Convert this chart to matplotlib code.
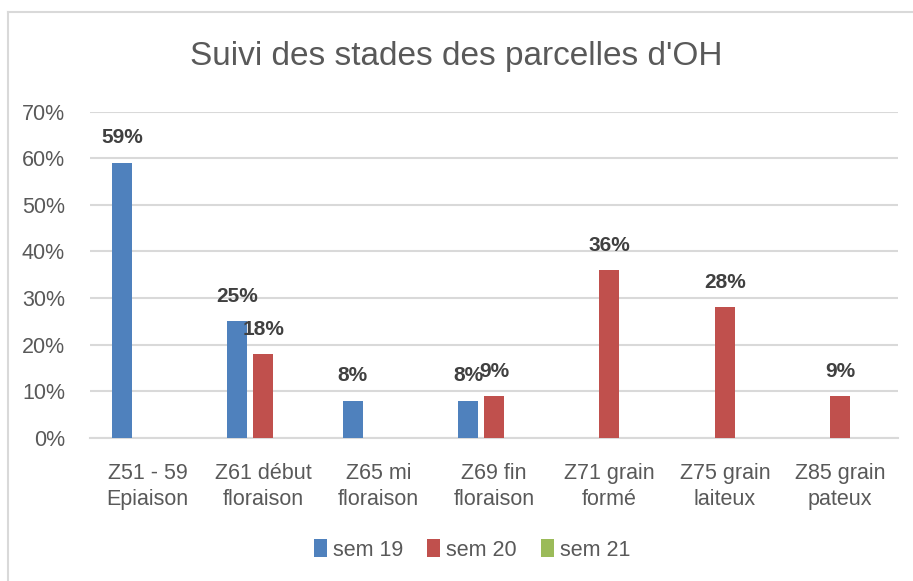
import numpy as np
import matplotlib.pyplot as plt
from matplotlib.lines import Line2D

# ---------- data ----------
categories = ['Z51 - 59\nEpiaison', 'Z61 début\nfloraison', 'Z65 mi\nfloraison',
              'Z69 fin\nfloraison', 'Z71 grain\nformé', 'Z75 grain\nlaiteux',
              'Z85 grain\npateux']
series = ['sem 19', 'sem 20', 'sem 21']
sem19 = [59, 25, 8, 8, np.nan, np.nan, np.nan]
sem20 = [np.nan, 18, np.nan, 9, 36, 28, 9]
sem21 = [np.nan] * 7
colors = ['#4F81BD', '#C0504D', '#9BBB59']

plt.rcParams['font.family'] = ['Liberation Sans', 'DejaVu Sans']
txt = '#595959'

W, H = 913, 581
fig = plt.figure(figsize=(W / 100, H / 100), dpi=100)
ax = fig.add_axes([90 / W, (H - 438) / H, 808 / W, (438 - 111.5) / H])

x = np.arange(len(categories))
width = 0.173
offs = [-0.223, 0, 0.223]
for vals, col, off, lab in zip([sem19, sem20, sem21], colors, offs, series):
    v = np.array(vals, dtype=float)
    ax.bar(x + off, v, width=width, color=col, label=lab, zorder=3)
    for xi, vi in zip(x + off, v):
        if not np.isnan(vi):
            ax.annotate(f'{vi:.0f}%', (xi, vi), xytext=(0, 18), textcoords='offset points',
                        ha='center', va='center', fontsize=15, fontweight='bold',
                        color='#404040', zorder=4)

ax.set_xlim(-0.5, len(categories) - 0.5)
ax.set_ylim(0, 70)
ax.set_yticks(range(0, 71, 10))
ax.set_yticklabels([f'{t}%' for t in range(0, 71, 10)])
ax.yaxis.grid(True, color='#D9D9D9', linewidth=1.5, zorder=0)
ax.set_xticks(x)
ax.set_xticklabels(categories, linespacing=1.3)
ax.tick_params(axis='both', length=0, labelsize=15.5, colors=txt)
ax.tick_params(axis='x', pad=18)
ax.tick_params(axis='y', pad=18)
for s in ['top', 'right', 'left']:
    ax.spines[s].set_visible(False)
ax.spines['bottom'].set_color('#D9D9D9')
ax.spines['bottom'].set_linewidth(1.5)

fig.text(456 / W, 1 - 56 / H, "Suivi des stades des parcelles d'OH",
         ha='center', va='center', fontsize=24, color=txt)

fig.legend(loc='center', bbox_to_anchor=(472 / W, 1 - 550 / H), ncol=3, frameon=False,
           fontsize=15.5, handlelength=0.6, handleheight=0.9, handletextpad=0.3,
           columnspacing=1.1, labelcolor=txt)

# chart border
fig.add_artist(Line2D([8 / W, 8 / W], [0, 1 - 12 / H], color='#D9D9D9', linewidth=1.5))
fig.add_artist(Line2D([8 / W, 1], [1 - 12 / H, 1 - 12 / H], color='#D9D9D9', linewidth=1.5))

fig.savefig('out.png', dpi=100)
